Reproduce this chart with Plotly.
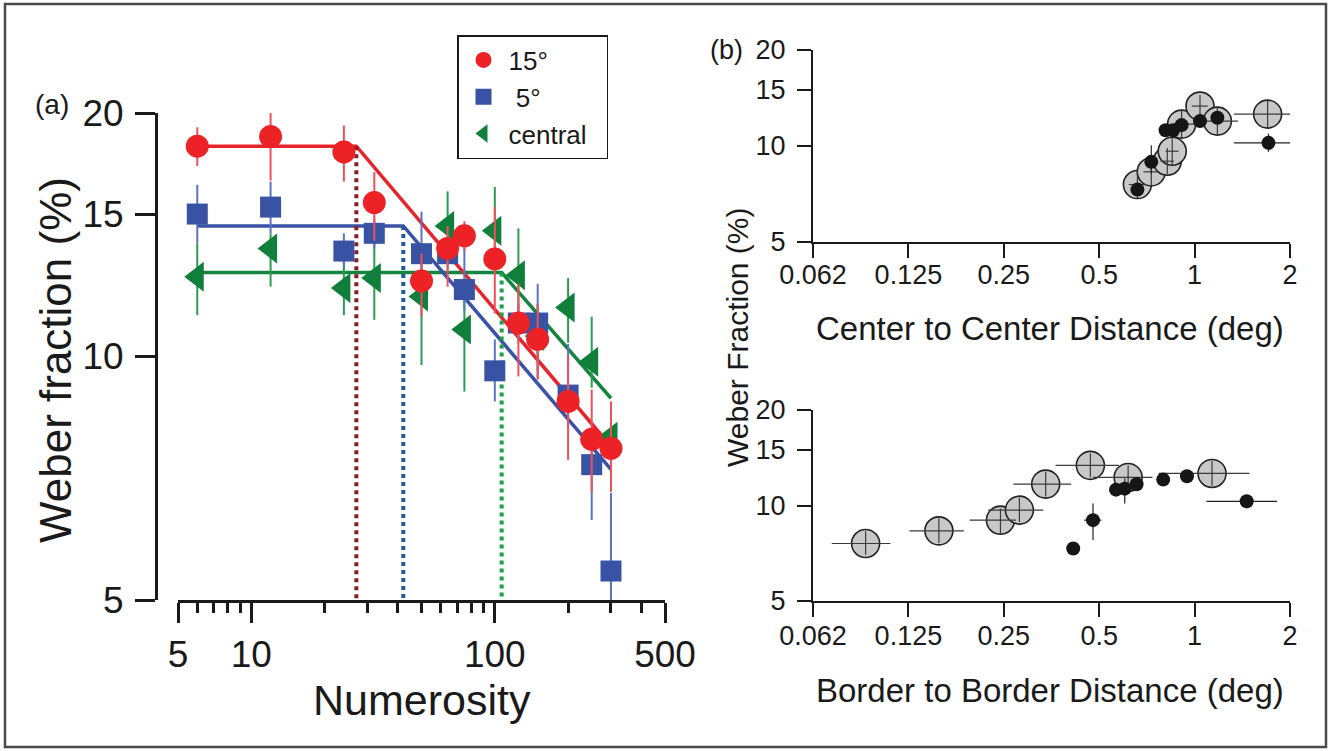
import math
import plotly.graph_objects as go

W, H = 1332, 751
FONT = "Liberation Sans, Arial, Helvetica, sans-serif"
INK = "#1a1a1a"

# ---------------- Panel (a): Weber fraction vs numerosity ----------------
numerosity = [6, 12, 24, 32, 50, 64, 75, 100, 125, 150, 200, 250, 300]

red_y = [18.2, 18.7, 17.9, 15.5, 12.4, 13.6, 14.1, 13.2, 11.0, 10.5, 8.8, 7.9, 7.7]
red_up = [1.0, 2.2, 1.4, 1.4, 1.0, 0.9, 0.6, 2.1, 1.3, 1.1, 1.2, 1.2, 1.1]
red_dn = [1.0, 2.2, 1.45, 1.6, 1.2, 1.4, 0.6, 1.9, 1.55, 1.14, 1.35, 1.1, 0.9]

blue_y = [15.0, 15.3, 13.5, 14.2, 13.4, 13.4, 12.1, 9.6, 11.0, 11.0, 8.96, 7.35, 5.43]
blue_up = [1.3, 1.15, 0.7, 0.6, 1.7, 0.6, 1.6, 0.9, 0.6, 1.3, 1.4, 0.8, 1.35]
blue_dn = [1.2, 1.1, 0.6, 0.6, 0.8, 0.6, 0.7, 0.8, 0.6, 1.6, 0.8, 1.07, 1.1]

green_y = [12.55, 13.6, 12.15, 12.5, 11.86, 14.5, 10.8, 14.3, 12.6, 10.6, 11.5, 9.85, 7.96]
green_up = [1.25, 0.6, 0.95, 1.3, 1.5, 1.5, 1.7, 1.9, 1.8, 1.0, 1.0, 1.35, 0.4]
green_dn = [1.3, 1.4, 0.9, 1.4, 2.1, 1.0, 1.75, 1.5, 2.1, 1.0, 1.1, 0.7, 0.4]

# broken-stick fits: start, knee, end
red_fit_x = [6, 27, 300]
red_fit_y = [18.2, 18.2, 7.74]
blue_fit_x = [6, 42.1, 300]
blue_fit_y = [14.5, 14.5, 7.25]
green_fit_x = [6, 106.7, 300]
green_fit_y = [12.7, 12.7, 8.88]
y_floor = 5

a_xticks = [5, 10, 100, 500]
a_xminor = [6, 7, 8, 9, 20, 30, 40, 50, 60, 70, 80, 90, 200, 300, 400]
a_yticks = [5, 10, 15, 20]

# ---------------- Panel (b): Weber fraction vs spacing ----------------
cc_gray_x = [0.66, 0.73, 0.82, 0.85, 0.91, 1.04, 1.18, 1.70]
cc_gray_y = [7.57, 8.30, 8.96, 9.63, 11.71, 13.34, 11.97, 12.59]
cc_gray_xp = [0.04, 0.04, 0.04, 0.04, 0.14, 0.06, 0.19, 0.38]
cc_gray_xm = [0.04, 0.04, 0.04, 0.04, 0.05, 0.06, 0.13, 0.37]
cc_gray_yp = [0.8, 0.9, 0.9, 1.0, 1.2, 1.1, 1.2, 1.28]
cc_gray_ym = [0.7, 0.8, 0.8, 0.9, 1.1, 1.0, 1.1, 1.24]

cc_black_x = [0.66, 0.73, 0.81, 0.855, 0.91, 1.04, 1.18, 1.71]
cc_black_y = [7.30, 8.92, 11.21, 11.21, 11.63, 11.97, 12.26, 10.23]
cc_black_xp = [0.02, 0.02, 0.03, 0.02, 0.02, 0.02, 0.02, 0.37]
cc_black_xm = [0.02, 0.02, 0.03, 0.02, 0.02, 0.02, 0.02, 0.38]
cc_black_yp = [0.2, 1.14, 0.3, 0.3, 0.3, 0.3, 0.3, 0.71]
cc_black_ym = [0.2, 0.72, 0.3, 0.3, 0.3, 0.3, 0.3, 0.64]

bb_gray_x = [0.0916, 0.156, 0.244, 0.28, 0.339, 0.469, 0.617, 1.135]
bb_gray_y = [7.59, 8.32, 8.99, 9.67, 11.68, 13.38, 12.26, 12.62]
bb_gray_xp = [0.018, 0.031, 0.029, 0.053, 0.069, 0.108, 0.119, 0.355]
bb_gray_xm = [0.020, 0.030, 0.049, 0.057, 0.071, 0.105, 0.139, 0.365]
bb_gray_yp = [0.7, 0.8, 0.8, 0.9, 1.1, 1.2, 1.1, 1.2]
bb_gray_ym = [0.6, 0.7, 0.8, 0.8, 1.0, 1.1, 1.0, 1.1]

bb_black_x = [0.414, 0.478, 0.565, 0.602, 0.656, 0.796, 0.946, 1.46]
bb_black_y = [7.32, 8.99, 11.22, 11.30, 11.67, 12.07, 12.36, 10.31]
bb_black_xp = [0.0, 0.03, 0.02, 0.02, 0.02, 0.02, 0.02, 0.36]
bb_black_xm = [0.0, 0.03, 0.02, 0.02, 0.02, 0.02, 0.02, 0.37]
bb_black_yp = [0.0, 1.16, 0.2, 0.86, 0.2, 0.2, 0.2, 0.5]
bb_black_ym = [0.0, 1.21, 0.2, 1.15, 0.2, 0.2, 0.2, 0.5]

b_xticks = [0.0625, 0.125, 0.25, 0.5, 1, 2]
b_xticktext = ["0.062", "0.125", "0.25", "0.5", "1", "2"]
b_yticks = [5, 10, 15, 20]

NBSP = "\u00a0"


def px_x(v):
    return v / W


def px_y(v):
    return 1 - v / H


fig = go.Figure()

# fit lines (under markers)
for fx, fy, col in [(green_fit_x, green_fit_y, "#14853f"),
                    (blue_fit_x, blue_fit_y, "#3a52a8"),
                    (red_fit_x, red_fit_y, "#e8242b")]:
    fig.add_trace(go.Scatter(x=fx, y=fy, mode="lines", line=dict(color=col, width=3.5),
                             showlegend=False, hoverinfo="skip", xaxis="x", yaxis="y"))

# dotted knee markers
for fx, fy, col in [(red_fit_x, red_fit_y, "#8c1c24"),
                    (blue_fit_x, blue_fit_y, "#1d5a9a"),
                    (green_fit_x, green_fit_y, "#1d9e48")]:
    fig.add_trace(go.Scatter(x=[fx[1], fx[1]], y=[fy[1], y_floor], mode="lines",
                             line=dict(color=col, width=4, dash="dot"),
                             showlegend=False, hoverinfo="skip", xaxis="x", yaxis="y"))

series = [
    ("central" + NBSP * 2, green_y, green_up, green_dn, "#107f3c", "#2c9a52", "triangle-left", 26, 3),
    (" 5°", blue_y, blue_up, blue_dn, "#3953a4", "#5a73c2", "square", 21, 2),
    ("15°", red_y, red_up, red_dn, "#ec2227", "#f0505a", "circle", 23, 1),
]
for name, ys, up, dn, col, ecol, sym, sz, rank in series:
    fig.add_trace(go.Scatter(
        x=numerosity, y=ys, mode="markers", name=name, legendrank=rank,
        marker=dict(color=col, symbol=sym, size=sz, line=dict(width=0)),
        error_y=dict(type="data", symmetric=False, array=up, arrayminus=dn,
                     color=ecol, thickness=2, width=0),
        cliponaxis=False, xaxis="x", yaxis="y"))

# panel (b)
def add_b(gx, gy, gxp, gxm, gyp, gym, bx, by, bxp, bxm, byp, bym, xa, ya):
    fig.add_trace(go.Scatter(
        x=gx, y=gy, mode="markers", showlegend=False,
        marker=dict(color="#c8c8c8", size=28, line=dict(color="#222222", width=1.6)),
        xaxis=xa, yaxis=ya))
    fig.add_trace(go.Scatter(
        x=gx, y=gy, mode="markers", showlegend=False, hoverinfo="skip",
        marker=dict(color="rgba(0,0,0,0)", size=1),
        error_x=dict(type="data", symmetric=False, array=gxp, arrayminus=gxm,
                     color="#3a3a3a", thickness=1.2, width=0),
        error_y=dict(type="data", symmetric=False, array=gyp, arrayminus=gym,
                     color="#3a3a3a", thickness=1.2, width=0),
        xaxis=xa, yaxis=ya))
    fig.add_trace(go.Scatter(
        x=bx, y=by, mode="markers", showlegend=False,
        marker=dict(color="#161616", size=14, line=dict(width=0)),
        error_x=dict(type="data", symmetric=False, array=bxp, arrayminus=bxm,
                     color="#222222", thickness=1.2, width=0),
        error_y=dict(type="data", symmetric=False, array=byp, arrayminus=bym,
                     color="#222222", thickness=1.2, width=0),
        xaxis=xa, yaxis=ya))


add_b(cc_gray_x, cc_gray_y, cc_gray_xp, cc_gray_xm, cc_gray_yp, cc_gray_ym,
      cc_black_x, cc_black_y, cc_black_xp, cc_black_xm, cc_black_yp, cc_black_ym, "x2", "y2")
add_b(bb_gray_x, bb_gray_y, bb_gray_xp, bb_gray_xm, bb_gray_yp, bb_gray_ym,
      bb_black_x, bb_black_y, bb_black_xp, bb_black_xm, bb_black_yp, bb_black_ym, "x3", "y3")

axis_a = dict(type="log", showgrid=False, zeroline=False, showline=True, linecolor=INK,
              linewidth=3, ticks="outside", tickcolor=INK, tickwidth=3, ticklen=20,
              tickfont=dict(size=37, color=INK, family=FONT), tickmode="array",
              automargin=False)
axis_b = dict(type="log", showgrid=False, zeroline=False, showline=True, linecolor=INK,
              linewidth=2, ticks="outside", tickcolor=INK, tickwidth=2, ticklen=14,
              tickfont=dict(size=27, color=INK, family=FONT), tickmode="array",
              automargin=False)

L = math.log10
b_xrange = [L(0.0625), L(2)]
b_yrange = [L(5), L(20)]

fig.update_layout(
    width=W, height=H, autosize=False,
    margin=dict(l=0, r=0, t=0, b=0, pad=0, autoexpand=False),
    paper_bgcolor="white", plot_bgcolor="rgba(0,0,0,0)",
    font=dict(family=FONT, color=INK),
    xaxis=dict(axis_a, domain=[px_x(178), px_x(665)], range=[L(5), L(500)], anchor="y",
               tickvals=a_xticks, ticktext=[str(v) for v in a_xticks], ticklabelstandoff=0,
               minor=dict(tickmode="array", tickvals=a_xminor, ticks="outside", ticklen=10,
                          tickwidth=3, tickcolor=INK, showgrid=False)),
    yaxis=dict(axis_a, domain=[px_y(600), px_y(113)], range=[L(5), L(20)], anchor="free",
               position=px_x(156), tickvals=a_yticks, ticktext=[str(v) for v in a_yticks],
               ticklabelstandoff=4),
    xaxis2=dict(axis_b, domain=[px_x(813), px_x(1290)], range=b_xrange, anchor="y2",
                tickvals=b_xticks, ticktext=b_xticktext, ticklabelstandoff=-6),
    yaxis2=dict(axis_b, domain=[px_y(242), px_y(50)], range=b_yrange, anchor="x2",
                tickvals=b_yticks, ticktext=[str(v) for v in b_yticks], ticklabelstandoff=6),
    xaxis3=dict(axis_b, domain=[px_x(813), px_x(1290)], range=b_xrange, anchor="y3",
                tickvals=b_xticks, ticktext=b_xticktext, ticklabelstandoff=-4),
    yaxis3=dict(axis_b, domain=[px_y(601), px_y(410)], range=b_yrange, anchor="x3",
                tickvals=b_yticks, ticktext=[str(v) for v in b_yticks], ticklabelstandoff=6),
    legend=dict(x=px_x(457), y=px_y(35), xanchor="left", yanchor="top",
                bgcolor="white", bordercolor=INK, borderwidth=1.5,
                font=dict(size=26, family=FONT, color=INK), itemsizing="trace",
                itemwidth=40, traceorder="normal"),
    showlegend=True,
)

ann = [
    ("(a)", 52, 104, 28, 0),
    ("Weber fraction (%)", 55, 360, 44, -90),
    ("Numerosity", 422, 700, 43, 0),
    ("(b)", 726, 50, 27, 0),
    ("Weber Fraction (%)", 737, 337, 30, -90),
    ("Center to Center Distance (deg)", 1050, 328, 33, 0),
    ("Border to Border Distance (deg)", 1050, 690, 33, 0),
]
for txt, x, y, s, ang in ann:
    fig.add_annotation(text=txt, x=px_x(x), y=px_y(y), xref="paper", yref="paper",
                       showarrow=False, xanchor="center", yanchor="middle", textangle=ang,
                       font=dict(size=s, family=FONT, color=INK))

# outer frame
fig.add_shape(type="rect", xref="paper", yref="paper", x0=px_x(5), x1=px_x(1326),
              y0=px_y(747), y1=px_y(4), line=dict(color="#4a4a4a", width=2.5))

fig.write_html("out.html")
